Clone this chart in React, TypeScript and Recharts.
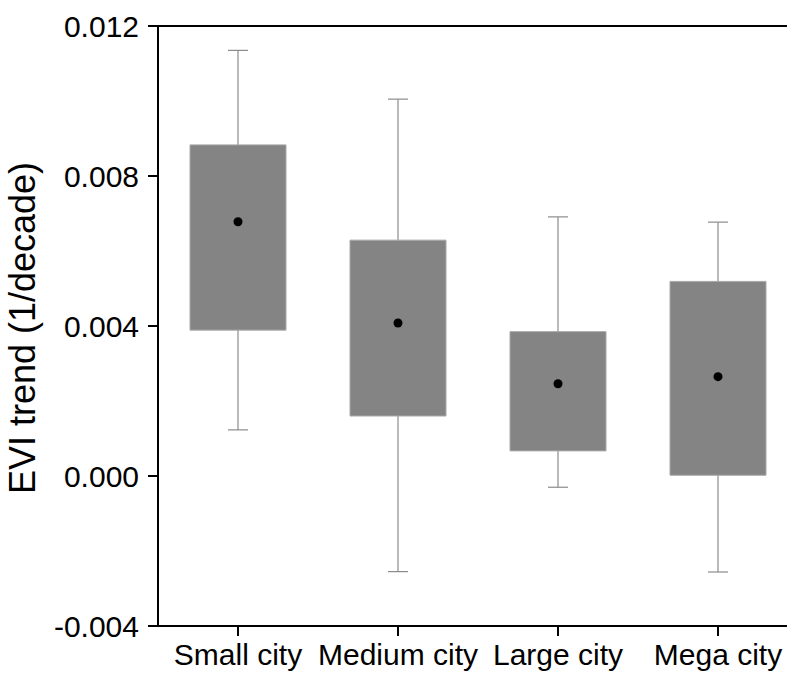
import React from "react";
import {
  ComposedChart,
  Bar,
  Line,
  XAxis,
  YAxis,
  ReferenceLine,
} from "recharts";

const CITIES = ["Small city", "Medium city", "Large city", "Mega city"];
const WHISKER_LOW = [0.00123, -0.00255, -0.0003, -0.00256];
const WHISKER_HIGH = [0.01135, 0.01005, 0.00691, 0.00677];
const BOX_LOW = [0.00389, 0.0016, 0.00067, 0.00002];
const BOX_HIGH = [0.00883, 0.00629, 0.00385, 0.00519];
const MEANS = [0.00678, 0.00408, 0.00246, 0.00265];
const Y_TICKS = [-0.004, 0, 0.004, 0.008, 0.012];

const FONT = '"Liberation Sans", Arial, sans-serif';

const data = CITIES.map((city, i) => ({
  city,
  whisker: [WHISKER_LOW[i], WHISKER_HIGH[i]],
  box: [BOX_LOW[i], BOX_HIGH[i]],
  mean: MEANS[i],
}));

// whisker: vertical stem plus caps, width taken from the bar slot
const Whisker = (props: any) => {
  const { x, y, width, height } = props;
  if (x == null || y == null) return null;
  const top = Math.min(y, y + height);
  const bottom = Math.max(y, y + height);
  const cx = x + width / 2;
  return (
    <g stroke="#8c8c8c" strokeWidth={1.2}>
      <line x1={cx} x2={cx} y1={top} y2={bottom} />
      <line x1={x} x2={x + width} y1={top} y2={top} />
      <line x1={x} x2={x + width} y1={bottom} y2={bottom} />
    </g>
  );
};

const YLabel = (props: any) => {
  const vb = props.viewBox;
  const x = vb.x + 35;
  const y = vb.y + vb.height / 2 + 2;
  return (
    <text
      x={x}
      y={y}
      transform={`rotate(-90, ${x}, ${y})`}
      textAnchor="middle"
      fontSize={36}
      fontFamily={FONT}
      fill="#000"
    >
      EVI trend (1/decade)
    </text>
  );
};

export default function App() {
  const tickStyle = { fontSize: 30, fill: "#000", fontFamily: FONT };
  return (
    <div
      style={{
        position: "absolute",
        left: 0,
        top: 0,
        width: 787,
        height: 675,
        overflow: "hidden",
        background: "#fff",
      }}
    >
      <ComposedChart
        width={800}
        height={675}
        data={data}
        margin={{ top: 26, right: 2, bottom: 0, left: 0 }}
      >
        <XAxis
          xAxisId="main"
          dataKey="city"
          type="category"
          height={49}
          tick={tickStyle}
          tickSize={10}
          tickMargin={8}
          axisLine={{ stroke: "#000", strokeWidth: 2 }}
          tickLine={{ stroke: "#000", strokeWidth: 2 }}
          interval={0}
        />
        <XAxis xAxisId="whisk" dataKey="city" type="category" hide />
        <YAxis
          domain={[-0.004, 0.012]}
          ticks={Y_TICKS}
          width={158}
          tick={tickStyle}
          tickSize={10}
          tickMargin={9}
          tickFormatter={(v: number) => v.toFixed(3)}
          axisLine={{ stroke: "#000", strokeWidth: 2 }}
          tickLine={{ stroke: "#000", strokeWidth: 2 }}
          label={<YLabel />}
          allowDataOverflow
        />
        <ReferenceLine xAxisId="main" y={0.012} stroke="#000" strokeWidth={2} />
        <Bar
          xAxisId="whisk"
          dataKey="whisker"
          barSize={20}
          shape={<Whisker />}
          isAnimationActive={false}
        />
        <Bar
          xAxisId="main"
          dataKey="box"
          barSize={96}
          fill="#848484"
          stroke="#a8a8a8"
          strokeWidth={1}
          isAnimationActive={false}
        />
        <Line
          xAxisId="main"
          dataKey="mean"
          stroke="none"
          dot={{ r: 4.5, fill: "#000", stroke: "none" }}
          activeDot={false}
          isAnimationActive={false}
        />
      </ComposedChart>
    </div>
  );
}
